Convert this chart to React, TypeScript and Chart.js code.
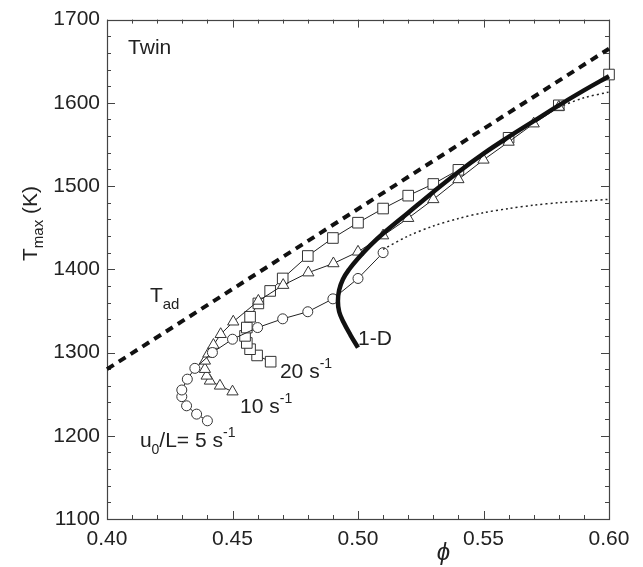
import { useEffect, useRef } from "react";
import { Chart, registerables } from "chart.js";

Chart.register(...registerables);

const FONT = '"Liberation Sans", Arial, Helvetica, sans-serif';

// Axis tick labels
const xTickValues = [0.4, 0.45, 0.5, 0.55, 0.6];
const yTickValues = [1100, 1200, 1300, 1400, 1500, 1600, 1700];

// Adiabatic flame temperature
const tadPhi = [0.4, 0.6];
const tadT = [1280, 1665];

// 1-D flame response
const oneDPhi = [0.5, 0.497, 0.4943, 0.4925, 0.492, 0.4925, 0.494, 0.4965, 0.5, 0.505, 0.51, 0.52, 0.53, 0.54, 0.55, 0.56, 0.57, 0.58, 0.59, 0.6];
const oneDT = [1306, 1321, 1336, 1349, 1362, 1375, 1388, 1400, 1413, 1429, 1443, 1468, 1493, 1517, 1539, 1559, 1578, 1597, 1615, 1632];

// u0/L = 20 s^-1
const rate20Phi = [0.4652, 0.4598, 0.457, 0.4557, 0.455, 0.4557, 0.457, 0.4603, 0.465, 0.47, 0.48, 0.49, 0.5, 0.51, 0.52, 0.53, 0.54, 0.56, 0.58, 0.6];
const rate20T = [1289, 1296.5, 1304, 1311.5, 1320, 1330, 1343, 1359, 1374, 1389, 1416, 1437.6, 1456, 1473, 1488.5, 1502.5, 1519.5, 1558, 1597, 1634];

// u0/L = 10 s^-1
const rate10Phi = [0.45, 0.445, 0.441, 0.4397, 0.439, 0.439, 0.4404, 0.4424, 0.4453, 0.4503, 0.4603, 0.4702, 0.4802, 0.4902, 0.5, 0.51, 0.52, 0.53, 0.54, 0.55, 0.56, 0.57, 0.58];
const rate10T = [1253, 1260, 1266, 1272, 1280, 1290, 1298.5, 1309, 1322, 1337, 1362, 1381, 1396, 1407, 1421, 1440.5, 1461.4, 1484, 1508, 1531.5, 1553, 1575, 1595];
const rate10TailPhi = [0.58, 0.59, 0.6];
const rate10TailT = [1595, 1606, 1613];

// u0/L = 5 s^-1
const rate5Phi = [0.44, 0.4357, 0.4317, 0.4298, 0.4298, 0.432, 0.435, 0.442, 0.45, 0.46, 0.47, 0.48, 0.49, 0.5, 0.51];
const rate5T = [1218, 1226, 1236, 1247, 1255, 1268, 1281, 1300, 1316, 1330, 1340.5, 1349, 1364.5, 1389, 1420];
const rate5TailPhi = [0.51, 0.52, 0.53, 0.54, 0.55, 0.56, 0.57, 0.58, 0.59, 0.6];
const rate5TailT = [1424, 1440, 1452, 1461, 1468, 1473, 1477, 1480, 1482, 1484];

type Run = { t: string; size: number; dy?: number; italic?: boolean };
type Note = { phi: number; T: number; runs: Run[] };

// Text placed in data coordinates (left edge, baseline)
const notes: Note[] = [
  { phi: 0.4084, T: 1659, runs: [{ t: "Twin", size: 21 }] },
  { phi: 0.4171, T: 1361, runs: [{ t: "T", size: 21 }, { t: "ad", size: 15, dy: 7 }] },
  { phi: 0.5, T: 1309, runs: [{ t: "1-D", size: 21 }] },
  { phi: 0.4689, T: 1270, runs: [{ t: "20 s", size: 21 }, { t: "-1", size: 14, dy: -10 }] },
  { phi: 0.453, T: 1227, runs: [{ t: "10 s", size: 21 }, { t: "-1", size: 14, dy: -10 }] },
  {
    phi: 0.4131,
    T: 1186,
    runs: [
      { t: "u", size: 21 },
      { t: "0", size: 14, dy: 7 },
      { t: "/L= 5 s", size: 21 },
      { t: "-1", size: 14, dy: -10 },
    ],
  },
];

function toPoints(xs: number[], ys: number[]) {
  return xs.map((x, i) => ({ x, y: ys[i] }));
}

function drawRuns(ctx: CanvasRenderingContext2D, runs: Run[], x: number, y: number, center = false) {
  let total = 0;
  for (const r of runs) {
    ctx.font = `${r.italic ? "italic " : ""}${r.size}px ${FONT}`;
    total += ctx.measureText(r.t).width;
  }
  let cx = center ? x - total / 2 : x;
  for (const r of runs) {
    ctx.font = `${r.italic ? "italic " : ""}${r.size}px ${FONT}`;
    ctx.fillText(r.t, cx, y + (r.dy || 0));
    cx += ctx.measureText(r.t).width;
  }
}

const frameAndTicks = {
  id: "frameAndTicks",
  beforeDatasetsDraw(chart: any) {
    const { ctx, chartArea } = chart;
    const { left, right, top, bottom } = chartArea;
    const xs = chart.scales.x;
    const ys = chart.scales.y;
    ctx.save();
    ctx.strokeStyle = "#444";
    ctx.lineWidth = 1;
    ctx.beginPath();
    for (let i = 0; i <= 20; i++) {
      const px = Math.round(xs.getPixelForValue(0.4 + i * 0.01)) + 0.5;
      const len = i % 5 === 0 ? 8 : 4;
      ctx.moveTo(px, bottom);
      ctx.lineTo(px, bottom - len);
      ctx.moveTo(px, top);
      ctx.lineTo(px, top + len);
    }
    for (let i = 0; i <= 30; i++) {
      const py = Math.round(ys.getPixelForValue(1100 + i * 20)) + 0.5;
      const len = i % 5 === 0 ? 8 : 4;
      ctx.moveTo(left, py);
      ctx.lineTo(left + len, py);
      ctx.moveTo(right, py);
      ctx.lineTo(right - len, py);
    }
    ctx.stroke();
    ctx.lineWidth = 1.2;
    ctx.strokeRect(Math.round(left) + 0.5, Math.round(top) + 0.5, Math.round(right - left), Math.round(bottom - top));
    ctx.restore();
  },
  afterDraw(chart: any) {
    const { ctx, chartArea } = chart;
    const xs = chart.scales.x;
    const ys = chart.scales.y;
    ctx.save();
    ctx.fillStyle = "#222";
    ctx.textBaseline = "alphabetic";
    ctx.textAlign = "left";
    for (const n of notes) {
      drawRuns(ctx, n.runs, xs.getPixelForValue(n.phi), ys.getPixelForValue(n.T));
    }
    // x-axis title
    drawRuns(ctx, [{ t: "\u03D5", size: 24, italic: true }], xs.getPixelForValue(0.534), chartArea.bottom + 41, true);
    // y-axis title
    ctx.translate(37, ys.getPixelForValue(1455));
    ctx.rotate(-Math.PI / 2);
    drawRuns(
      ctx,
      [
        { t: "T", size: 21 },
        { t: "max", size: 15, dy: 6 },
        { t: " (K)", size: 21 },
      ],
      0,
      0,
      true
    );
    ctx.restore();
  },
};

export default function App() {
  const canvasRef = useRef<HTMLCanvasElement | null>(null);

  useEffect(() => {
    if (!canvasRef.current) return;
    const markerLine = { borderColor: "#222", borderWidth: 1, pointBackgroundColor: "#fff", pointBorderColor: "#333", pointBorderWidth: 1, showLine: true, tension: 0, clip: false as const };
    const chart = new Chart(canvasRef.current, {
      type: "scatter",
      data: {
        datasets: [
          {
            label: "Tad",
            data: toPoints(tadPhi, tadT),
            showLine: true,
            borderColor: "#111",
            borderWidth: 4,
            borderDash: [8, 6],
            pointRadius: 0,
            clip: false,
          },
          {
            label: "5 tail",
            data: toPoints(rate5TailPhi, rate5TailT),
            showLine: true,
            borderColor: "#222",
            borderWidth: 1.5,
            borderDash: [2, 3],
            pointRadius: 0,
            tension: 0.3,
          },
          {
            label: "10 tail",
            data: toPoints(rate10TailPhi, rate10TailT),
            showLine: true,
            borderColor: "#222",
            borderWidth: 1.5,
            borderDash: [2, 3],
            pointRadius: 0,
            tension: 0.3,
          },
          {
            label: "1-D",
            data: toPoints(oneDPhi, oneDT),
            showLine: true,
            borderColor: "#111",
            borderWidth: 4.5,
            pointRadius: 0,
            tension: 0.4,
            clip: false,
          },
          { label: "5 s-1", data: toPoints(rate5Phi, rate5T), pointStyle: "circle", pointRadius: 5, ...markerLine },
          { label: "10 s-1", data: toPoints(rate10Phi, rate10T), pointStyle: "triangle", pointRadius: 6.5, ...markerLine },
          { label: "20 s-1", data: toPoints(rate20Phi, rate20T), pointStyle: "rect", pointRadius: 7.5, ...markerLine },
        ],
      },
      options: {
        animation: false,
        responsive: false,
        maintainAspectRatio: false,
        layout: { padding: { top: 16, right: 34, left: 0, bottom: 0 } },
        plugins: { legend: { display: false }, tooltip: { enabled: false } },
        elements: { point: { hoverRadius: 0 } },
        scales: {
          x: {
            type: "linear",
            min: 0.4,
            max: 0.6,
            afterFit: (s: any) => {
              s.height = 48;
            },
            afterBuildTicks: (s: any) => {
              s.ticks = xTickValues.map((v) => ({ value: v }));
            },
            ticks: {
              font: { size: 21, family: FONT },
              color: "#222",
              padding: 8,
              maxRotation: 0,
              autoSkip: false,
              callback: (v: any) => Number(v).toFixed(2),
            },
            grid: { display: false, drawTicks: false },
            border: { display: false },
          },
          y: {
            type: "linear",
            min: 1100,
            max: 1700,
            afterFit: (s: any) => {
              s.width = 107;
            },
            afterBuildTicks: (s: any) => {
              s.ticks = yTickValues.map((v) => ({ value: v }));
            },
            ticks: {
              font: { size: 21, family: FONT },
              color: "#222",
              padding: 7,
              autoSkip: false,
              callback: (v: any) => String(v),
            },
            grid: { display: false, drawTicks: false },
            border: { display: false },
          },
        },
      },
      plugins: [frameAndTicks],
    });
    return () => chart.destroy();
  }, []);

  return (
    <div style={{ position: "absolute", left: 0, top: 0, width: 643, height: 567, background: "#fff" }}>
      <canvas ref={canvasRef} width={643} height={567} style={{ display: "block" }} />
    </div>
  );
}
